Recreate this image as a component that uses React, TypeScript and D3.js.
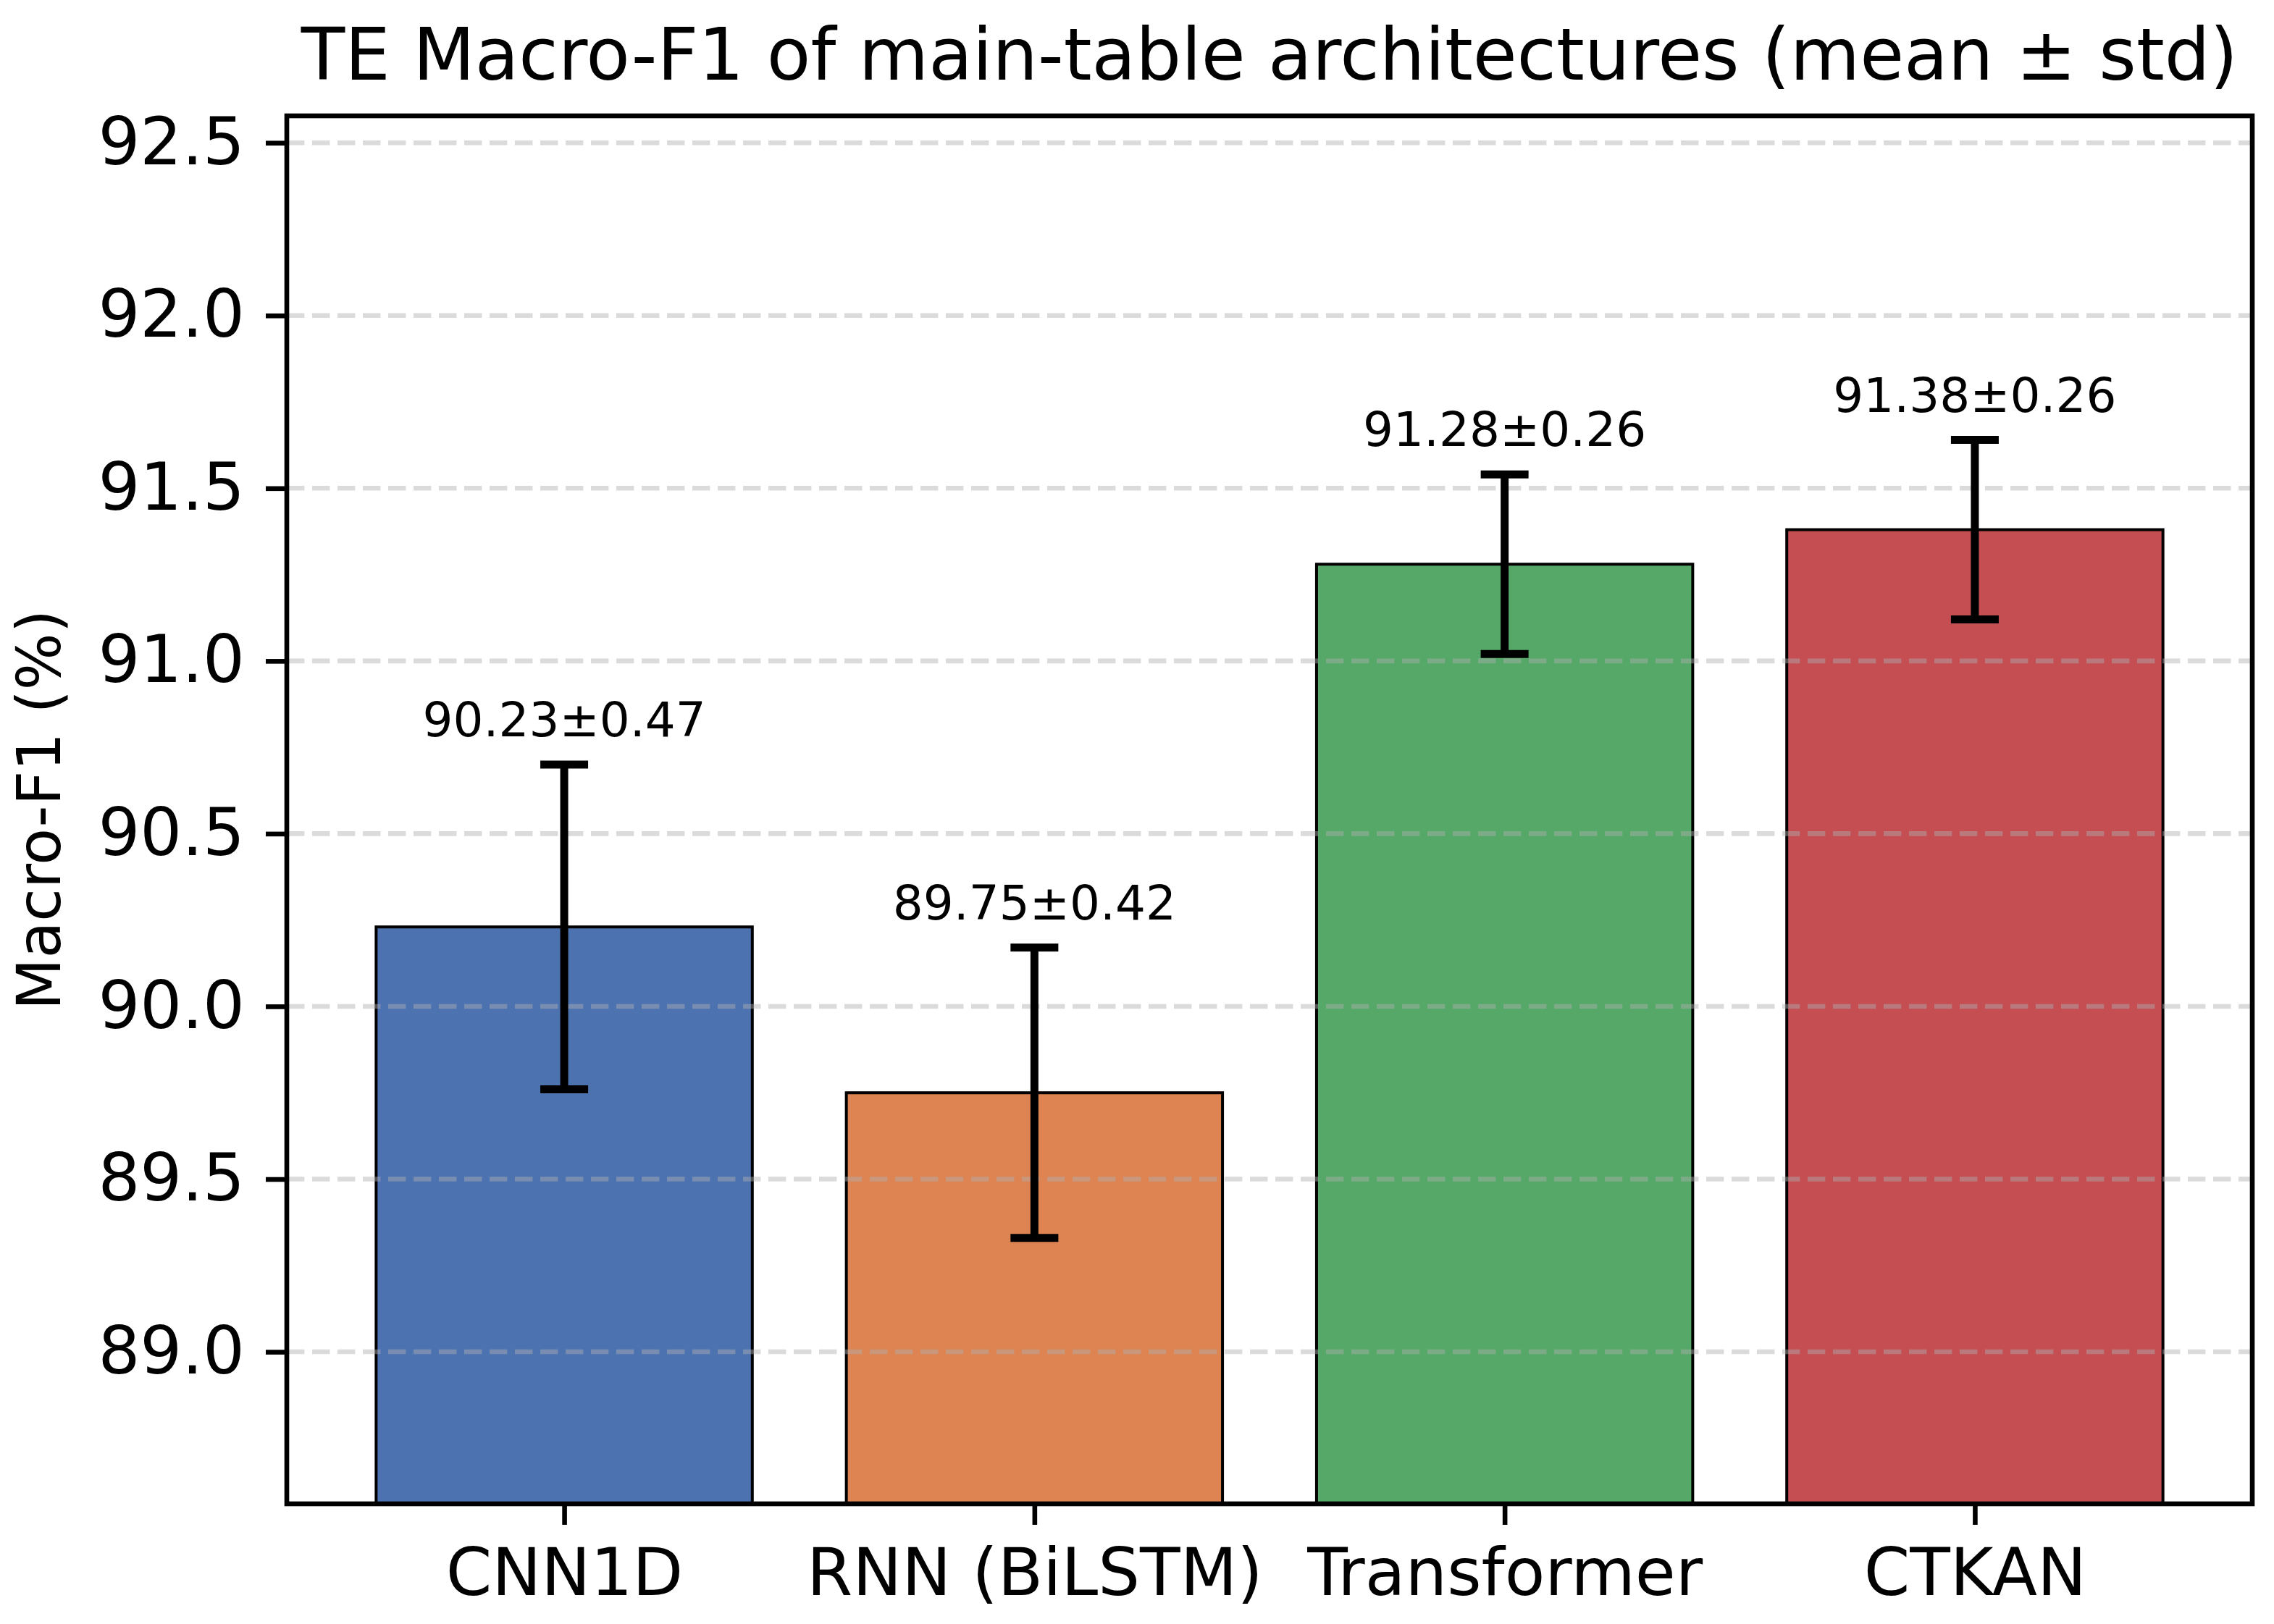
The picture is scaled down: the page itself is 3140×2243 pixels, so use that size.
import * as d3 from 'd3'
import React, { useEffect, useRef } from 'react'

const models = ['CNN1D', 'RNN (BiLSTM)', 'Transformer', 'CTKAN']
const means = [90.23, 89.75, 91.28, 91.38]
const stds = [0.47, 0.42, 0.26, 0.26]
const barColors = ['#4c72b0', '#dd8452', '#55a868', '#c44e52']
const yTicks = [89.0, 89.5, 90.0, 90.5, 91.0, 91.5, 92.0, 92.5]
const yDomain = [88.56, 92.578]

const W = 3140
const H = 2243

const App = () => {
  const ref = useRef<SVGSVGElement>(null)

  useEffect(() => {
    const svg = d3.select(ref.current)
    svg.selectAll('*').remove()

    const margin = { top: 160, right: W - 3110, bottom: H - 2077, left: 396 }
    const font = 'DejaVu Sans, sans-serif'

    // matplotlib style: bar centers at 0..n-1, 5% margin on x
    const x = d3
      .scaleLinear()
      .domain([-0.59, models.length - 1 + 0.59])
      .range([margin.left, W - margin.right])
    const y = d3.scaleLinear().domain(yDomain).range([H - margin.bottom, margin.top])
    const barW = x(0.8) - x(0)

    svg.append('rect').attr('width', W).attr('height', H).attr('fill', '#fff')

    // bars
    svg
      .append('g')
      .selectAll('rect')
      .data(means)
      .join('rect')
      .attr('x', (_, i) => x(i) - barW / 2)
      .attr('y', (d) => y(d))
      .attr('width', barW)
      .attr('height', (d) => y(yDomain[0]) - y(d))
      .attr('fill', (_, i) => barColors[i])
      .attr('stroke', '#000')
      .attr('stroke-width', 4)

    // grid (drawn over bars)
    svg
      .append('g')
      .selectAll('line')
      .data(yTicks)
      .join('line')
      .attr('x1', margin.left)
      .attr('x2', W - margin.right)
      .attr('y1', (d) => y(d))
      .attr('y2', (d) => y(d))
      .attr('stroke', '#b0b0b0')
      .attr('stroke-opacity', 0.45)
      .attr('stroke-width', 6.6)
      .attr('stroke-dasharray', '24.4 10.6')

    // error bars
    const cap = 33
    const eb = svg.append('g').attr('stroke', '#000').attr('stroke-width', 11)
    means.forEach((m, i) => {
      const cx = x(i)
      const lo = y(m - stds[i])
      const hi = y(m + stds[i])
      eb.append('line').attr('x1', cx).attr('x2', cx).attr('y1', lo).attr('y2', hi)
      eb.append('line').attr('x1', cx - cap).attr('x2', cx + cap).attr('y1', lo).attr('y2', lo)
      eb.append('line').attr('x1', cx - cap).attr('x2', cx + cap).attr('y1', hi).attr('y2', hi)
    })

    // value labels
    svg
      .append('g')
      .selectAll('text')
      .data(means)
      .join('text')
      .attr('x', (_, i) => x(i))
      .attr('y', (d, i) => y(d + stds[i] + 0.05) - 15)
      .attr('text-anchor', 'middle')
      .attr('font-family', font)
      .attr('font-size', 66)
      .attr('fill', '#000')
      .text((d, i) => `${d.toFixed(2)}±${stds[i].toFixed(2)}`)

    // frame
    svg
      .append('rect')
      .attr('x', margin.left)
      .attr('y', margin.top)
      .attr('width', W - margin.right - margin.left)
      .attr('height', H - margin.bottom - margin.top)
      .attr('fill', 'none')
      .attr('stroke', '#000')
      .attr('stroke-width', 6.6)

    // y axis
    const yAxis = d3
      .axisLeft(y)
      .tickValues(yTicks)
      .tickFormat(d3.format('.1f'))
      .tickSize(29)
      .tickPadding(29)
    const gy = svg.append('g').attr('transform', `translate(${margin.left},0)`).call(yAxis)
    gy.select('.domain').remove()
    gy.selectAll('line').attr('stroke', '#000').attr('stroke-width', 6.6)
    gy.selectAll('text')
      .attr('font-family', font)
      .attr('font-size', 91)
      .attr('fill', '#000')

    // x axis
    const xAxis = d3
      .axisBottom(x)
      .tickValues(d3.range(models.length))
      .tickFormat((d) => models[d as number])
      .tickSize(29)
      .tickPadding(29)
    const gx = svg.append('g').attr('transform', `translate(0,${H - margin.bottom})`).call(xAxis)
    gx.select('.domain').remove()
    gx.selectAll('line').attr('stroke', '#000').attr('stroke-width', 6.6)
    gx.selectAll('text')
      .attr('font-family', font)
      .attr('font-size', 91)
      .attr('fill', '#000')
      .attr('dy', null)
      .attr('y', 29 + 29 + 68)

    // y label
    svg
      .append('text')
      .attr('transform', `translate(83,${(margin.top + H - margin.bottom) / 2}) rotate(-90)`)
      .attr('text-anchor', 'middle')
      .attr('font-family', font)
      .attr('font-size', 83)
      .attr('fill', '#000')
      .text('Macro-F1 (%)')

    // title
    svg
      .append('text')
      .attr('x', (margin.left + W - margin.right) / 2)
      .attr('y', 110)
      .attr('text-anchor', 'middle')
      .attr('font-family', font)
      .attr('font-size', 99)
      .attr('fill', '#000')
      .text('TE Macro-F1 of main-table architectures (mean ± std)')
  }, [])

  return (
    <svg
      ref={ref}
      width={W}
      height={H}
      style={{ position: 'absolute', left: 0, top: 0, display: 'block' }}
    />
  )
}

export default App
